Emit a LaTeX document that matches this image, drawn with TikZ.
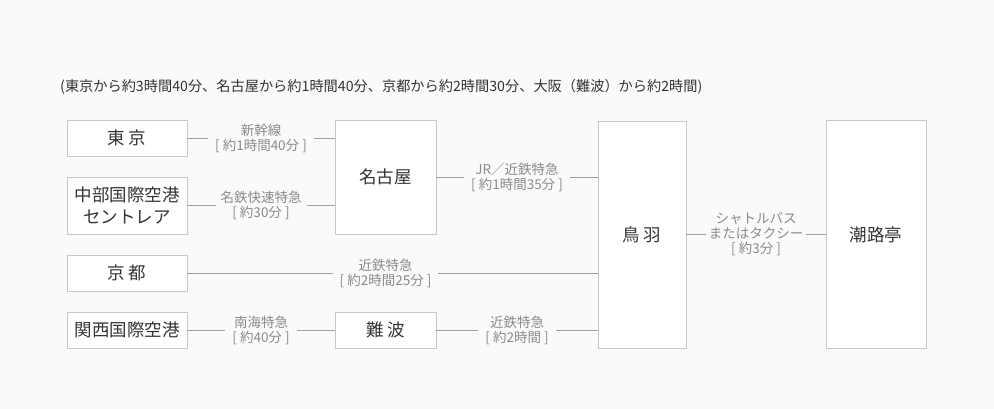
\documentclass[tikz,border=0pt]{standalone}
\usepackage{fontspec}
\setmainfont{Noto Sans CJK JP}
\definecolor{bg}{HTML}{FAFAFA}
\definecolor{boxline}{HTML}{C8C8C8}
\definecolor{connline}{HTML}{A0A0A0}
\definecolor{lbltext}{HTML}{8A8A8A}
\definecolor{boxtext}{HTML}{333333}
\begin{document}
\begin{tikzpicture}[x=1pt,y=1pt,
  station/.style={draw=boxline,fill=white,line width=0.9pt,rectangle,align=center,
    text=boxtext,font=\fontsize{17.5}{22}\selectfont,inner sep=0pt},
  conn/.style={draw=connline,line width=0.8pt},
  lbl/.style={fill=bg,text=lbltext,align=center,inner xsep=7pt,inner ysep=0pt,
    font=\fontsize{13.5}{15}\selectfont}]
\useasboundingbox[fill=bg] (0,0) rectangle (994,-409);
\node[anchor=west,text=boxtext,font=\fontsize{14.2}{16}\selectfont,inner sep=0pt] (head) at (60,-87)
  {(東京から約3時間40分、名古屋から約1時間40分、京都から約2時間30分、大阪（難波）から約2時間)};
\node[station,minimum width=120,minimum height=36] (tokyo) at (127,-138) {東 京};
\node[station,minimum width=120,minimum height=57] (chubu) at (127,-205.5) {中部国際空港\\セントレア};
\node[station,minimum width=120,minimum height=36] (kyoto) at (127,-273) {京 都};
\node[station,minimum width=120,minimum height=36] (kansai) at (127,-330) {関西国際空港};
\node[station,minimum width=101,minimum height=114] (nagoya) at (385.5,-177) {名古屋};
\node[station,minimum width=101,minimum height=36] (namba) at (385.5,-330) {難 波};
\node[station,minimum width=88,minimum height=227] (toba) at (642,-234.5) {鳥 羽};
\node[station,minimum width=100,minimum height=228] (shio) at (876,-234.5) {潮路亭};
\draw[conn] (tokyo) -- node[lbl]{新幹線\\{[} 約1時間40分 {]}} (tokyo -| nagoya.west);
\draw[conn] (chubu) -- node[lbl,inner xsep=5pt]{名鉄快速特急\\{[} 約30分 {]}} (chubu -| nagoya.west);
\draw[conn] (kyoto) -- node[lbl,pos=0.483]{近鉄特急\\{[} 約2時間25分 {]}} (kyoto -| toba.west);
\draw[conn] (kansai) -- node[lbl]{南海特急\\{[} 約40分 {]}} (namba);
\draw[conn] (nagoya) -- node[lbl]{JR／近鉄特急\\{[} 約1時間35分 {]}} (nagoya -| toba.west);
\draw[conn] (namba) -- node[lbl]{近鉄特急\\{[} 約2時間 {]}} (namba -| toba.west);
\draw[conn] (toba) -- node[lbl,inner xsep=3pt]{シャトルバス\\またはタクシー\\{[} 約3分 {]}} (shio);
\end{tikzpicture}
\end{document}
